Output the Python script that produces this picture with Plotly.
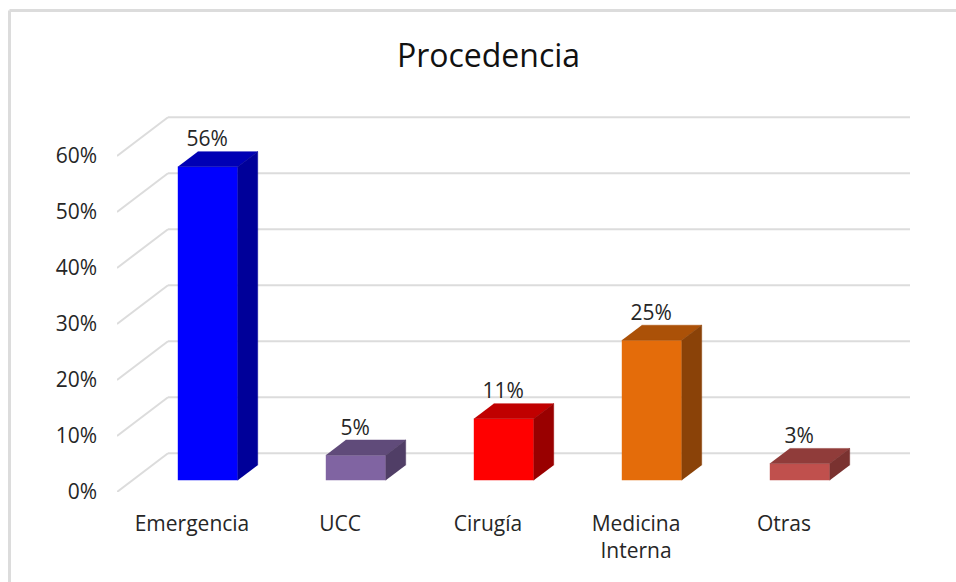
import plotly.graph_objects as go

# Data
categories = ["Emergencia", "UCC", "Cirugía", "Medicina<br>Interna", "Otras"]
values = [56, 4.5, 11, 25, 3]
value_labels = ["56%", "5%", "11%", "25%", "3%"]
y_ticks = [0, 10, 20, 30, 40, 50, 60]
y_tick_labels = ["0%", "10%", "20%", "30%", "40%", "50%", "60%"]

# Styles
front_colors = ["#0000FF", "#8064A2", "#FF0000", "#E46C0A", "#C0504D"]
top_colors = ["#0000B4", "#604B7A", "#C00000", "#AB5108", "#903C3A"]
side_colors = ["#000099", "#503E66", "#990000", "#8A4208", "#7A3230"]
GRID = "#DCDCDC"
TEXT = "#262626"
FONT = "Open Sans"

# Pseudo-3D projection (data units of the front plane)
W, H, L, R, T, B = 956, 582, 117, 46, 100, 90
PX_X, PX_Y = 148.0, 5.6
X_RANGE = [(L - 192) / PX_X, (W - R - 192) / PX_X]
Y_RANGE = [0, (H - B - T) / PX_Y]
DEPTH_X, DEPTH_Y = 51 / PX_X, 38.8 / PX_Y
D_FRONT, D_BACK = 0.30, 0.69
BAR_W = 60 / PX_X
X_SHIFT = 0.5 / PX_X


def proj(x, y, d):
    return x + d * DEPTH_X, y + d * DEPTH_Y


def paper_x(px):
    return (px - L) / (W - L - R)


def paper_y(px):
    return (H - B - px) / (H - T - B)


fig = go.Figure()

# Front faces
xs = [proj(i, 0, D_FRONT)[0] + X_SHIFT for i in range(len(values))]
base = proj(0, 0, D_FRONT)[1]
fig.add_trace(go.Bar(x=xs, y=values, base=base, width=BAR_W,
                     marker=dict(color=front_colors, line=dict(width=0)),
                     hoverinfo="skip", showlegend=False))

# Top and side faces, data labels
label_x, label_y = [], []
for i, v in enumerate(values):
    x0, x1 = i - BAR_W / 2 + X_SHIFT, i + BAR_W / 2 + X_SHIFT
    corners = [proj(x0, v, D_FRONT), proj(x1, v, D_FRONT), proj(x1, v, D_BACK), proj(x0, v, D_BACK)]
    fig.add_trace(go.Scatter(x=[c[0] for c in corners], y=[c[1] for c in corners], mode="lines",
                             fill="toself", fillcolor=top_colors[i], line=dict(width=0.5, color=top_colors[i]),
                             hoverinfo="skip", showlegend=False))
    corners = [proj(x1, 0, D_FRONT), proj(x1, v, D_FRONT), proj(x1, v, D_BACK), proj(x1, 0, D_BACK)]
    fig.add_trace(go.Scatter(x=[c[0] for c in corners], y=[c[1] for c in corners], mode="lines",
                             fill="toself", fillcolor=side_colors[i], line=dict(width=0.5, color=side_colors[i]),
                             hoverinfo="skip", showlegend=False))
    label_x.append(proj(i, v, D_FRONT)[0])
    label_y.append(proj(i, v, D_BACK)[1])

fig.add_trace(go.Scatter(x=label_x, y=label_y, mode="text", text=value_labels, textposition="top center",
                         textfont=dict(family=FONT, size=21, color=TEXT), cliponaxis=False,
                         hoverinfo="skip", showlegend=False))

# Wall and floor gridlines
shapes = []
for t in y_ticks:
    bx, by = proj(X_RANGE[0], t, 1)
    shapes.append(dict(type="line", xref="x", yref="y", layer="below", x0=X_RANGE[0], y0=t, x1=bx, y1=by,
                       line=dict(color=GRID, width=2)))
    shapes.append(dict(type="line", xref="x", yref="y", layer="below", x0=bx, y0=by, x1=X_RANGE[1], y1=by,
                       line=dict(color=GRID, width=2)))
# Chart frame
shapes.append(dict(type="line", xref="paper", yref="paper", x0=paper_x(9.5), x1=paper_x(W),
                   y0=paper_y(10.5), y1=paper_y(10.5), line=dict(color=GRID, width=3)))
shapes.append(dict(type="line", xref="paper", yref="paper", x0=paper_x(9.5), x1=paper_x(9.5),
                   y0=paper_y(10.5), y1=paper_y(H), line=dict(color=GRID, width=3)))

fig.update_layout(
    width=W, height=H, margin=dict(l=L, r=R, t=T, b=B, autoexpand=False),
    paper_bgcolor="white", plot_bgcolor="white", showlegend=False, shapes=shapes,
    title=dict(text="Procedencia", x=488.5 / W, xanchor="center", y=1 - 56 / H, yanchor="middle",
               font=dict(family=FONT, size=32, color="#111111")),
    xaxis=dict(range=X_RANGE, tickmode="array", tickvals=list(range(len(categories))), ticktext=categories,
               showgrid=False, zeroline=False, showline=False, ticks="", ticklabelstandoff=17,
               tickfont=dict(family=FONT, size=21, color=TEXT), tickangle=0),
    yaxis=dict(range=Y_RANGE, tickmode="array", tickvals=y_ticks, ticktext=y_tick_labels,
               showgrid=False, zeroline=False, showline=False, ticks="", ticklabelstandoff=19,
               tickfont=dict(family=FONT, size=21, color=TEXT)),
)

fig.write_html("out.html", config={"displayModeBar": False}, post_script="document.body.style.margin='0';")
